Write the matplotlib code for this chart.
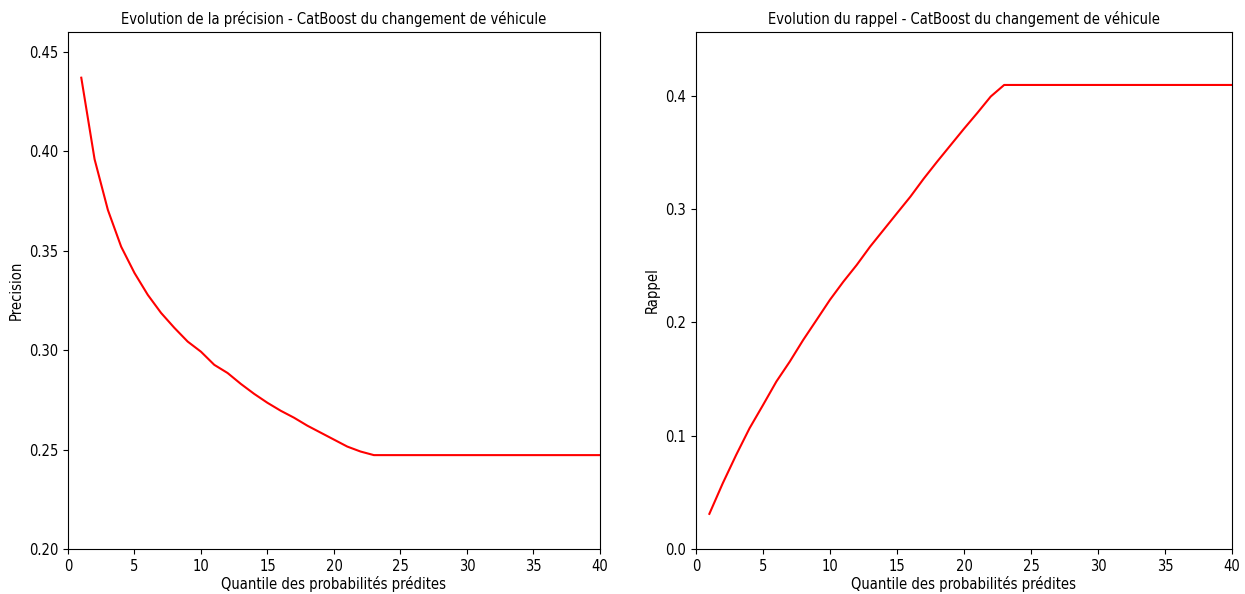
import numpy as np
import matplotlib
matplotlib.use("Agg")
import matplotlib.pyplot as plt

# -----------------------
# Data
# -----------------------
quantiles = np.arange(1, 41)

precision = [0.437, 0.396, 0.3705, 0.352, 0.3388, 0.3278, 0.3187, 0.3112, 0.3043, 0.2992,
             0.2926, 0.2885, 0.283, 0.278, 0.2735, 0.2695, 0.266, 0.262, 0.2585, 0.255,
             0.2515, 0.249] + [0.2472] * 18

recall = [0.031, 0.058, 0.083, 0.1066, 0.127, 0.1478, 0.1654, 0.1845, 0.2022, 0.22,
          0.236, 0.2508, 0.267, 0.2817, 0.2964, 0.311, 0.327, 0.342, 0.3565, 0.371,
          0.385, 0.3995] + [0.4097] * 18

plt.rcParams['font.family'] = ['DejaVu Sans']
plt.rcParams['font.stretch'] = 'condensed'
plt.rcParams['font.size'] = 10.5

fig = plt.figure(figsize=(12.45, 5.94), dpi=100)

# left: precision
ax1 = fig.add_axes([0.0546, 0.0758, 0.4273, 0.8704])
ax1.plot(quantiles, precision, color="red")
ax1.set_xlim(0, 40)
ax1.set_ylim(0.2, 0.46)
ax1.set_title("Evolution de la précision - CatBoost du changement de véhicule", fontsize=10.5)
ax1.set_xlabel("Quantile des probabilités prédites", labelpad=2)
ax1.set_ylabel("Precision")

# right: recall
ax2 = fig.add_axes([0.559, 0.0758, 0.4305, 0.8704])
ax2.plot(quantiles, recall, color="red")
ax2.set_xlim(0, 40)
ax2.set_ylim(0, 0.4565)
ax2.set_title("Evolution du rappel - CatBoost du changement de véhicule", fontsize=10.5)
ax2.set_xlabel("Quantile des probabilités prédites", labelpad=2)
ax2.set_ylabel("Rappel")

fig.savefig("out.png", dpi=100)
